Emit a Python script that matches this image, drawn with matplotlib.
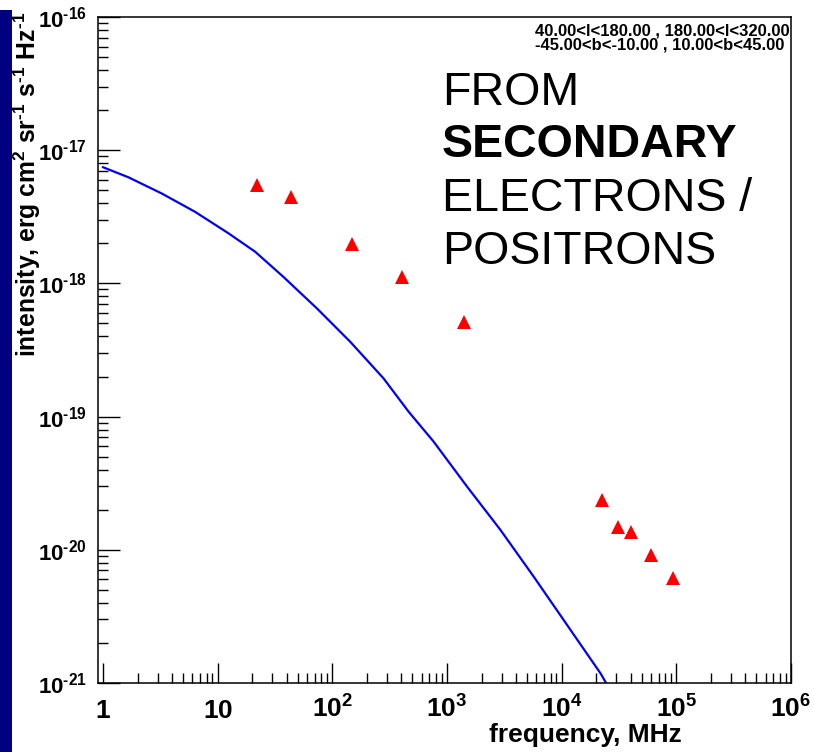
import numpy as np
import matplotlib
matplotlib.use("Agg")
import matplotlib.pyplot as plt
from matplotlib.ticker import LogLocator, NullFormatter, FixedLocator
from matplotlib.patches import Rectangle

plt.rcParams["font.family"] = ["Liberation Sans", "DejaVu Sans"]
plt.rcParams["mathtext.fontset"] = "custom"
plt.rcParams["mathtext.rm"] = "Liberation Sans"
plt.rcParams["mathtext.bf"] = "Liberation Sans:bold"
plt.rcParams["mathtext.it"] = "Liberation Sans:italic"

# Model synchrotron spectrum from secondary electrons / positrons
model_freq_mhz = [1, 1.66, 3.24, 6.34, 12.4, 21.2, 37.4, 73.2, 143, 279, 462,
                  764, 1496, 2924, 5706, 11170, 21830, 26000]
model_intensity = [7.45e-18, 6.27e-18, 4.74e-18, 3.45e-18, 2.38e-18, 1.73e-18,
                   1.12e-18, 6.50e-19, 3.65e-19, 1.94e-19, 1.09e-19, 6.49e-20,
                   2.98e-20, 1.41e-20, 6.28e-21, 2.72e-21, 1.18e-21, 9.1e-22]

# Radio / microwave survey measurements
obs_freq_mhz = [22, 44, 148, 405, 1400, 22600, 30900, 40500, 60300, 93500]
obs_intensity = [5.48e-18, 4.48e-18, 1.98e-18, 1.11e-18, 5.15e-19,
                 2.37e-20, 1.49e-20, 1.37e-20, 9.14e-21, 6.11e-21]

HY = "\u2010"  # short hyphen for the exponent sign
x_ticks = [1, 1e1, 1e2, 1e3, 1e4, 1e5, 1e6]
x_tick_labels = [r"$\mathbf{1}$", r"$\mathbf{10}$", r"$\mathbf{10^{2}}$",
                 r"$\mathbf{10^{3}}$", r"$\mathbf{10^{4}}$",
                 r"$\mathbf{10^{5}}$", r"$\mathbf{10^{6}}$"]
y_ticks = [1e-21, 1e-20, 1e-19, 1e-18, 1e-17, 1e-16]
y_tick_labels = [r"$\mathbf{10^{%s21}}$" % HY, r"$\mathbf{10^{%s20}}$" % HY,
                 r"$\mathbf{10^{%s19}}$" % HY, r"$\mathbf{10^{%s18}}$" % HY,
                 r"$\mathbf{10^{%s17}}$" % HY, r"$\mathbf{10^{%s16}}$" % HY]

region_lines = ["40.00<l<180.00 , 180.00<l<320.00",
                "-45.00<b<-10.00 , 10.00<b<45.00"]

W, H = 814, 752
fig = plt.figure(figsize=(W / 100, H / 100), dpi=100)
fig.patch.set_facecolor("white")

# navy strip along the left edge
fig.patches.append(Rectangle((0, 0), 12 / W, (H - 10) / H,
                             transform=fig.transFigure, facecolor="#000080",
                             edgecolor="none", zorder=0))

ax = fig.add_axes([98 / W, (H - 683) / H, (791 - 98) / W, (683 - 17) / H])
ax.set_xscale("log")
ax.set_yscale("log")
ax.set_xlim(0.904, 1.0e6)
ax.set_ylim(1e-21, 1e-16)

ax.plot(model_freq_mhz, model_intensity, color="#0000ff", lw=1.6,
        solid_joinstyle="round")
ax.plot(obs_freq_mhz, obs_intensity, linestyle="none", marker="^",
        markersize=9.5, color="#ff0000", markeredgewidth=0)

for s in ax.spines.values():
    s.set_linewidth(1.1)
    s.set_color("black")

ax.xaxis.set_major_locator(FixedLocator(x_ticks))
ax.yaxis.set_major_locator(FixedLocator(y_ticks))
ax.set_xticklabels(x_tick_labels)
ax.set_yticklabels(y_tick_labels)
ax.xaxis.set_minor_locator(LogLocator(base=10, subs=np.arange(2, 10) * 1.0, numticks=100))
ax.yaxis.set_minor_locator(LogLocator(base=10, subs=np.arange(2, 10) * 1.0, numticks=100))
ax.xaxis.set_minor_formatter(NullFormatter())
ax.yaxis.set_minor_formatter(NullFormatter())

ax.tick_params(which="both", direction="in", top=False, right=False, width=1.0,
               color="black")
ax.tick_params(axis="x", which="major", length=14.5, labelsize=19, pad=25)
ax.tick_params(axis="x", which="minor", length=7.2)
ax.tick_params(axis="y", which="major", length=15.5, labelsize=16, pad=8)
ax.tick_params(axis="y", which="minor", length=7.5)
for lab in ax.get_xticklabels():
    lab.set_verticalalignment("baseline")

# axis titles
fig.text(682 / W, 1 - 742 / H, "frequency, MHz", ha="right", va="baseline",
         fontsize=19, fontweight="bold")
fig.text(27 / W, 1 - 12 / H,
         r"intensity, erg cm$^{\mathbf{2}}$ sr$^{\mathbf{%s1}}$ "
         r"s$^{\mathbf{%s1}}$ Hz$^{\mathbf{%s1}}$" % (HY, HY, HY),
         rotation=90, ha="center", va="top", fontsize=17.8, fontweight="bold")

# sky region annotation
fig.text(790 / W, 1 - 35 / H, region_lines[0], ha="right", va="baseline",
         fontsize=12, fontweight="bold")
fig.text(784 / W, 1 - 49 / H, region_lines[1], ha="right", va="baseline",
         fontsize=12, fontweight="bold")

# large caption
cap_x = 442 / W
fig.text(cap_x, 1 - 105 / H, "FROM", fontsize=33.5, va="baseline")
fig.text(cap_x, 1 - 157 / H, "SECONDARY", fontsize=33.5, va="baseline",
         fontweight="bold")
fig.text(cap_x, 1 - 211 / H, "ELECTRONS /", fontsize=33.5, va="baseline")
fig.text(cap_x, 1 - 264 / H, "POSITRONS", fontsize=33.5, va="baseline")

fig.savefig("out.png", dpi=100)
